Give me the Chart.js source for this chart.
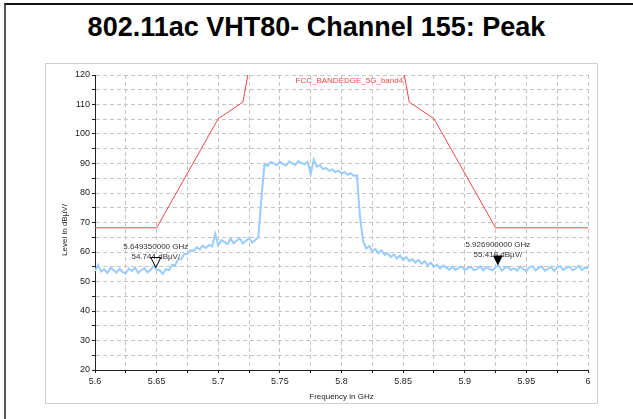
<!DOCTYPE html>
<html>
<head>
<meta charset="utf-8">
<script src="https://cdn.jsdelivr.net/npm/chart.js@4.4.1/dist/chart.umd.min.js"></script>
<style>
  html, body { margin: 0; padding: 0; background: #fff; }
  #page { position: relative; width: 633px; height: 419px; overflow: hidden; font-family: "Liberation Sans", Arial, sans-serif; }
  #frame { position: absolute; left: 4px; top: 3px; right: -10px; bottom: -10px; border-left: 2px solid #555; border-top: 2px solid #111; }
  #title { position: absolute; left: 0; top: 14px; width: 633px; text-align: center; font-weight: bold; font-size: 27px; line-height: 27px; color: #000; }
  #panel { position: absolute; left: 45px; top: 63px; width: 551px; height: 339px; border: 1px solid #d0d0d0; }
  #plot { position: absolute; left: 46px; top: 64px; width: 550px; height: 338px; }
</style>
</head>
<body>
<div id="page">
  <div id="frame"></div>
  <div id="title">802.11ac VHT80- Channel 155: Peak</div>
  <div id="panel"></div>
  <div id="plot"><canvas id="sweep"></canvas></div>
</div>
<script>
// peak trace, one reading every 2.5 MHz from 5.6 GHz to 6 GHz
const sweepStart = 5.6;
const sweepStep = 0.0025;
const traceLevel = [
  53.6, 55.6, 53.4, 54.1, 52.9, 54.6, 53.9, 53.0,
  54.3, 53.2, 52.8, 54.4, 53.6, 54.7, 52.9, 53.8,
  54.5, 53.1, 53.9, 55.2, 54.0, 53.8, 52.6, 54.2,
  53.8, 55.6, 55.6, 57.5, 57.7, 59.3, 59.3, 60.6,
  60.4, 61.6, 60.9, 62.2, 61.3, 62.4, 61.9, 66.2,
  62.3, 64.0, 63.4, 62.7, 64.5, 63.0, 63.9, 64.6,
  62.9, 63.8, 64.7, 63.2, 64.1, 65.0, 78.0, 89.9,
  89.2, 90.5, 90.1, 89.4, 90.6, 89.8, 89.3, 90.7,
  90.0, 89.5, 90.8, 90.2, 89.7, 90.6, 86.4, 91.3,
  88.9, 89.5, 88.1, 88.5, 87.5, 88.0, 87.1, 87.6,
  86.6, 87.1, 86.2, 86.7, 85.8, 86.0, 72.0, 63.8,
  61.2, 62.0, 60.2, 61.0, 59.6, 60.6, 59.0, 59.6,
  58.3, 59.2, 57.8, 58.8, 57.3, 58.3, 56.9, 57.6,
  56.4, 57.3, 56.0, 56.9, 55.5, 56.4, 54.9, 55.7,
  54.4, 55.4, 54.7, 54.0, 55.1, 53.9, 54.6, 55.1,
  53.9, 54.5, 55.0, 53.8, 54.3, 55.1, 53.8, 54.9,
  54.3, 53.8, 54.9, 55.4, 53.7, 54.6, 55.0, 53.9,
  54.5, 53.7, 55.0, 54.2, 53.6, 54.9, 55.2, 53.8,
  54.6, 55.1, 53.7, 54.3, 55.0, 53.6, 54.8, 55.2,
  53.9, 54.6, 55.1, 53.8, 54.4, 55.3, 53.9, 54.7,
  54.6
];

// FCC band edge limit line (dBuV/m)
const maskName = 'FCC_BANDEDGE_5G_band4';
const maskFreq = [5.6, 5.65, 5.7, 5.72, 5.725, 5.85, 5.855, 5.875, 5.925, 6.0];
const maskLevel = [68.2, 68.2, 105.2, 110.8, 122.2, 122.2, 110.8, 105.2, 68.2, 68.2];

// markers
const markerFreq = [5.64935, 5.9269];
const markerLevel = [54.744, 55.419];
const markerFilled = [false, true];

// axis ticks
const freqTicks = [5.6, 5.625, 5.65, 5.675, 5.7, 5.725, 5.75, 5.775, 5.8,
  5.825, 5.85, 5.875, 5.9, 5.925, 5.95, 5.975, 6.0];
const freqLabels = ['5.6', '', '5.65', '', '5.7', '', '5.75', '', '5.8',
  '', '5.85', '', '5.9', '', '5.95', '', '6'];
const levelTicks = [20, 25, 30, 35, 40, 45, 50, 55, 60, 65, 70,
  75, 80, 85, 90, 95, 100, 105, 110, 115, 120];

const tracePoints = traceLevel.map((lvl, i) => ({ x: sweepStart + i * sweepStep, y: lvl }));
const maskPoints = maskFreq.map((f, i) => ({ x: f, y: maskLevel[i] }));

const FONT = '"Liberation Sans", Arial, sans-serif';
Chart.defaults.font.family = FONT;
Chart.defaults.font.size = 9;
Chart.defaults.color = '#222';

const overlay = {
  id: 'overlay',
  afterDatasetsDraw(chart) {
    const { ctx, chartArea, scales: { x, y } } = chart;
    ctx.save();
    ctx.font = '8px ' + FONT;
    ctx.textBaseline = 'middle';

    // limit line name
    ctx.fillStyle = '#f04848';
    ctx.textAlign = 'right';
    ctx.fillText(maskName, x.getPixelForValue(maskFreq[5]), chartArea.top + 6);

    // marker triangles with their readouts
    ctx.textAlign = 'center';
    markerFreq.forEach((f, i) => {
      const px = x.getPixelForValue(f);
      const py = y.getPixelForValue(markerLevel[i]);
      ctx.fillStyle = '#333';
      ctx.fillText(f.toFixed(9) + ' GHz', px, py - 21);
      ctx.fillText(markerLevel[i].toFixed(3) + ' dBµV/', px, py - 11);
      ctx.beginPath();
      ctx.moveTo(px - 5, py - 10);
      ctx.lineTo(px + 5, py - 10);
      ctx.lineTo(px, py);
      ctx.closePath();
      if (markerFilled[i]) {
        ctx.fillStyle = '#000';
        ctx.fill();
      } else {
        ctx.strokeStyle = '#000';
        ctx.lineWidth = 1;
        ctx.stroke();
      }
    });

    // y axis title
    ctx.fillStyle = '#222';
    ctx.translate(chartArea.left - 30, (chartArea.top + chartArea.bottom) / 2 + 7.5);
    ctx.rotate(-Math.PI / 2);
    ctx.fillText('Level in dBµV/', 0, 0);
    ctx.restore();
  }
};

new Chart(document.getElementById('sweep'), {
  type: 'line',
  data: {
    datasets: [
      {
        data: tracePoints,
        borderColor: '#99ccff',
        borderWidth: 2,
        pointRadius: 0,
        tension: 0
      },
      {
        data: maskPoints,
        borderColor: '#f04848',
        borderWidth: 1,
        pointRadius: 0,
        tension: 0
      }
    ]
  },
  options: {
    responsive: true,
    maintainAspectRatio: false,
    animation: false,
    layout: { padding: { top: 11, right: 8, left: 0, bottom: 0 } },
    plugins: { legend: { display: false }, tooltip: { enabled: false } },
    scales: {
      x: {
        type: 'linear',
        min: 5.6,
        max: 6.0,
        afterBuildTicks: (axis) => { axis.ticks = freqTicks.map((v) => ({ value: v })); },
        afterFit: (axis) => { axis.height = 32; },
        ticks: { autoSkip: false, maxRotation: 0, padding: 3, callback: (v, i) => freqLabels[i] },
        grid: { color: '#c4c4c4', tickColor: '#222', tickLength: 3 },
        border: { color: '#222', width: 1, dash: [4, 3] },
        title: { display: true, text: 'Frequency in GHz', font: { size: 8 }, padding: { top: 0, bottom: 0 } }
      },
      y: {
        min: 20,
        max: 120,
        afterBuildTicks: (axis) => { axis.ticks = levelTicks.map((v) => ({ value: v })); },
        afterFit: (axis) => { axis.width = 49; },
        ticks: { autoSkip: false, padding: 2, callback: (v) => (v % 10 === 0 ? String(v) : '') },
        grid: { color: '#c4c4c4', tickColor: '#222', tickLength: 3 },
        border: { color: '#222', width: 1, dash: [4, 3] }
      }
    }
  },
  plugins: [overlay]
});
</script>
</body>
</html>
